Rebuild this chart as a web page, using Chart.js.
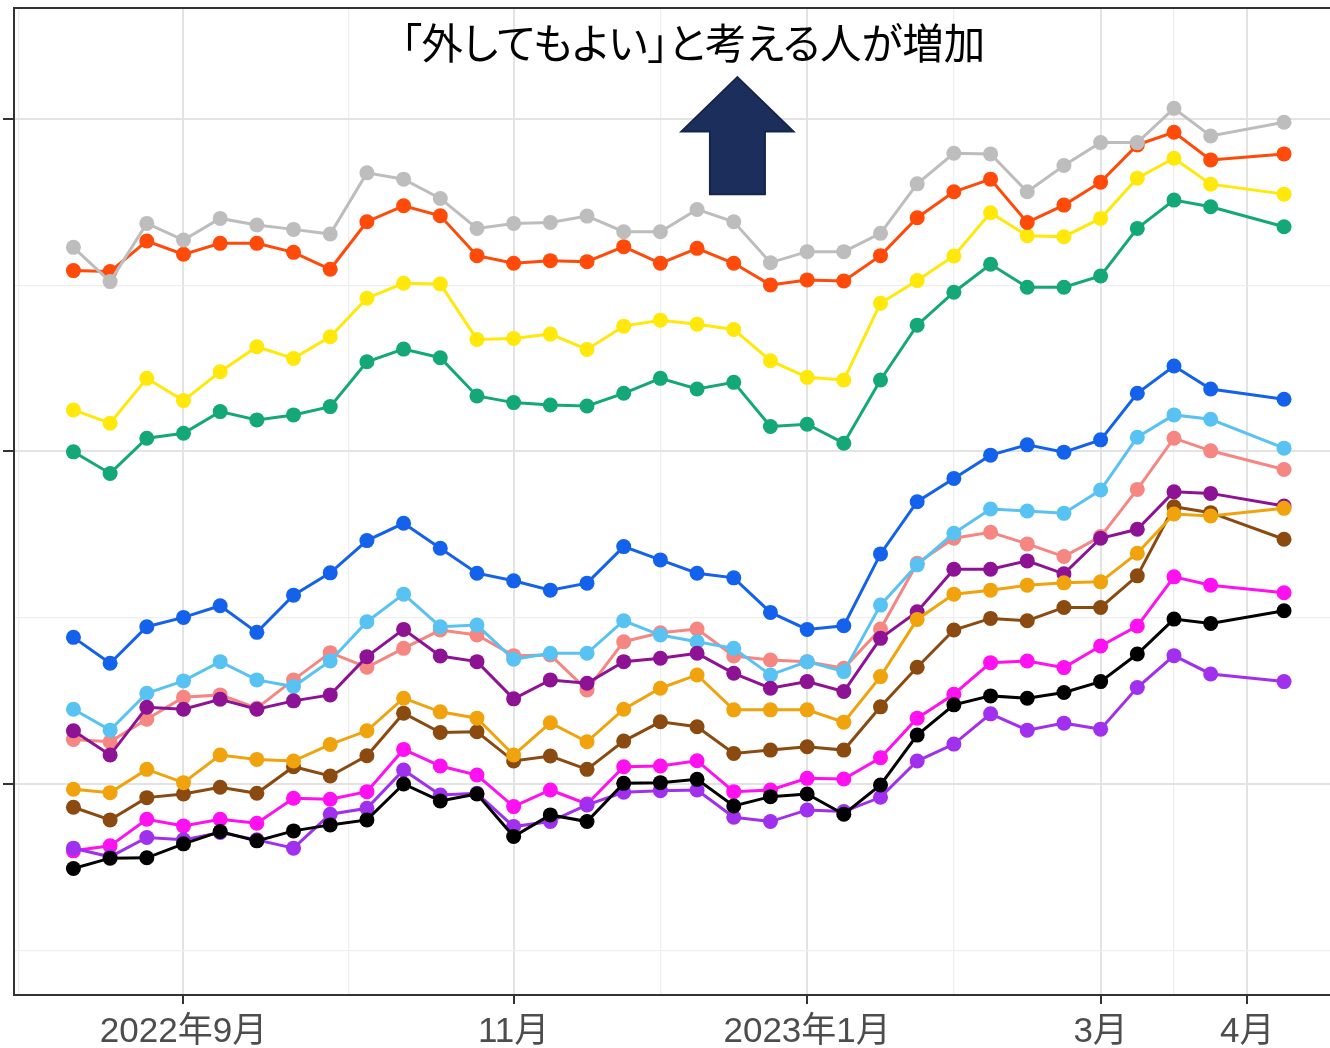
<!DOCTYPE html>
<html><head><meta charset="utf-8">
<script src="https://cdn.jsdelivr.net/npm/chart.js@4.4.1/dist/chart.umd.min.js"></script>
<style>
html,body{margin:0;padding:0;overflow:hidden;background:#fff;width:1330px;height:1048px;}
#wrap{position:relative;width:1330px;height:1048px;overflow:hidden;background:#fff;}
canvas{position:absolute;left:0;top:0;}
#note{position:absolute;left:0;width:1386px;top:19px;text-align:center;font-family:'Noto Sans CJK JP','Noto Sans CJK SC',sans-serif;font-size:41.5px;line-height:44px;color:#000;white-space:nowrap;font-feature-settings:"palt";}
</style></head><body>
<div id="wrap"><canvas id="c" width="1344" height="1048"></canvas><div id="note">「外してもよい」と考える人が増加</div></div>
<script>
// x positions (survey wave index; wave 32 missing)
const waves = [0,1,2,3,4,5,6,7,8,9,10,11,12,13,14,15,16,17,18,19,20,21,22,23,24,25,26,27,28,29,30,31,33];
const majorTicks = [3,12,20,28,32];
const tickLabels = ['2022年9月','11月','2023年1月','3月','4月'];
const minorTicks = [-1.5,7.5,16,24,30];
const yMajor = [10,20,30];
const yMinor = [5,15,25];

const gray      = [26.14,25.11,26.86,26.36,27.01,26.81,26.68,26.54,28.38,28.19,27.61,26.71,26.86,26.89,27.08,26.61,26.61,27.28,26.91,25.68,26.01,26.01,26.56,28.05,28.97,28.95,27.81,28.60,29.29,29.29,30.32,29.49,29.90];
const orangered = [25.44,25.41,26.33,25.93,26.26,26.26,25.99,25.48,26.91,27.39,27.09,25.89,25.66,25.74,25.71,26.16,25.66,26.11,25.66,25.01,25.16,25.13,25.89,27.03,27.81,28.19,26.89,27.41,28.10,29.22,29.60,28.77,28.95];
const yellow    = [21.25,20.85,22.20,21.53,22.40,23.15,22.80,23.45,24.61,25.06,25.04,23.37,23.40,23.53,23.07,23.77,23.95,23.83,23.67,22.73,22.23,22.15,24.46,25.14,25.88,27.18,26.49,26.46,27.01,28.22,28.82,28.04,27.74];
const green     = [19.99,19.34,20.40,20.55,21.20,20.95,21.10,21.35,22.70,23.08,22.82,21.67,21.47,21.40,21.37,21.75,22.20,21.88,22.08,20.75,20.82,20.25,22.15,23.80,24.79,25.63,24.94,24.94,25.28,26.71,27.56,27.36,26.76];
const blue      = [14.41,13.63,14.73,15.01,15.36,14.56,15.68,16.35,17.32,17.84,17.09,16.34,16.11,15.83,16.04,17.14,16.74,16.34,16.20,15.16,14.65,14.76,16.92,18.49,19.19,19.89,20.20,19.98,20.35,21.75,22.57,21.88,21.57];
const lightblue = [12.25,11.62,12.73,13.10,13.68,13.13,12.93,13.70,14.88,15.71,14.73,14.78,13.75,13.93,13.93,14.91,14.48,14.28,14.08,13.28,13.68,13.38,15.38,16.59,17.54,18.27,18.21,18.14,18.84,20.43,21.10,20.97,20.10];
const salmon    = [11.34,11.27,11.95,12.61,12.68,12.28,13.13,13.95,13.51,14.08,14.63,14.48,13.86,13.88,12.83,14.28,14.55,14.66,13.85,13.73,13.68,13.48,14.66,16.64,17.39,17.57,17.22,16.84,17.44,18.86,20.40,20.02,19.46];
const purple    = [11.60,10.87,12.31,12.25,12.55,12.25,12.50,12.68,13.83,14.65,13.85,13.68,12.56,13.13,13.03,13.68,13.78,13.93,13.33,12.88,13.08,12.78,14.38,15.18,16.46,16.46,16.71,16.32,17.39,17.66,18.79,18.74,18.36];
const orange    = [9.84,9.74,10.44,10.04,10.87,10.74,10.69,11.19,11.60,12.58,12.17,11.98,10.87,11.84,11.27,12.25,12.88,13.28,12.23,12.23,12.23,11.86,13.23,14.95,15.71,15.83,15.98,16.05,16.08,16.94,18.12,18.06,18.29];
const brown     = [9.30,8.92,9.59,9.70,9.90,9.72,10.52,10.24,10.85,12.13,11.55,11.57,10.69,10.84,10.44,11.29,11.87,11.72,10.92,11.02,11.12,11.02,12.32,13.51,14.63,14.98,14.91,15.31,15.31,16.26,18.34,18.16,17.36];
const magenta   = [7.99,8.14,8.94,8.74,8.94,8.82,9.57,9.54,9.77,11.04,10.54,10.27,9.32,9.82,9.40,10.52,10.54,10.70,9.77,9.82,10.17,10.15,10.79,11.98,12.70,13.65,13.70,13.50,14.15,14.75,16.23,15.98,15.75];
const black     = [7.46,7.77,7.78,8.20,8.57,8.29,8.59,8.77,8.92,10.00,9.49,9.70,8.42,9.07,8.87,10.02,10.04,10.14,9.34,9.62,9.70,9.09,9.97,11.47,12.38,12.65,12.58,12.75,13.08,13.91,14.96,14.83,15.21];
const violet    = [8.07,7.81,8.39,8.32,8.54,8.32,8.07,9.09,9.27,10.42,9.67,9.72,8.72,8.87,9.37,9.75,9.80,9.82,9.00,8.87,9.22,9.17,9.60,10.69,11.20,12.11,11.62,11.83,11.65,12.90,13.86,13.31,13.08];

// drawing order: first listed is drawn on top
const series = [
  ['black', black, '#000000'],
  ['violet', violet, '#A02FEE'],
  ['magenta', magenta, '#FF10F0'],
  ['orange', orange, '#F0A30C'],
  ['brown', brown, '#8A4A10'],
  ['purple', purple, '#8E1294'],
  ['lightblue', lightblue, '#58C3F3'],
  ['salmon', salmon, '#F58682'],
  ['blue', blue, '#1462EC'],
  ['gray', gray, '#BDBDBD'],
  ['orangered', orangered, '#FF4A0A'],
  ['yellow', yellow, '#FFE80A'],
  ['green', green, '#14A878']
];

const datasets = series.map(([name, vals, col]) => ({
  label: name,
  data: vals.map((v, i) => ({x: waves[i], y: v})),
  borderColor: col,
  backgroundColor: col,
  pointBackgroundColor: col,
  pointBorderColor: col,
  borderWidth: 3,
  pointRadius: 7.5,
  pointBorderWidth: 0,
  tension: 0
}));

const isMajorX = v => majorTicks.includes(v);
const isMajorY = v => yMajor.includes(v);

const frame = {
  id: 'frame',
  afterDraw(chart) {
    const {ctx, chartArea: a, scales} = chart;
    ctx.save();
    // annotation arrow
    const cx = scales.x.getPixelForValue(18.1);
    const tip = scales.y.getPixelForValue(31.26);
    const neck = scales.y.getPixelForValue(29.62);
    const base = scales.y.getPixelForValue(27.74);
    ctx.beginPath();
    ctx.moveTo(cx, tip);
    ctx.lineTo(cx + 56, neck);
    ctx.lineTo(cx + 27.5, neck);
    ctx.lineTo(cx + 27.5, base);
    ctx.lineTo(cx - 27.5, base);
    ctx.lineTo(cx - 27.5, neck);
    ctx.lineTo(cx - 56, neck);
    ctx.closePath();
    ctx.fillStyle = '#1C2F5C';
    ctx.fill();
    ctx.lineWidth = 2;
    ctx.strokeStyle = '#15254B';
    ctx.stroke();
    // panel border
    ctx.strokeStyle = '#333333';
    ctx.lineWidth = 2;
    ctx.strokeRect(a.left, a.top, a.right - a.left, a.bottom - a.top);
    ctx.restore();
  }
};

new Chart(document.getElementById('c'), {
  type: 'line',
  data: {datasets},
  plugins: [frame],
  options: {
    responsive: false,
    animation: false,
    devicePixelRatio: 1,
    layout: {padding: {top: 8, left: 0, right: 0, bottom: 0}},
    plugins: {legend: {display: false}, tooltip: {enabled: false}},
    scales: {
      x: {
        type: 'linear',
        min: -1.62, max: 34.43,
        afterBuildTicks: s => { s.ticks = minorTicks.concat(majorTicks).sort((a, b) => a - b).map(v => ({value: v})); },
        afterFit: s => { s.height = 53; },
        ticks: {
          autoSkip: false, maxRotation: 0, minRotation: 0, padding: 7,
          color: '#4D4D4D',
          font: {family: "'Liberation Sans','Noto Sans CJK JP'", size: 35},
          callback: v => { const i = majorTicks.indexOf(v); return i >= 0 ? tickLabels[i] : ''; }
        },
        grid: {
          color: c => (c.tick && isMajorX(c.tick.value)) ? '#E3E3E3' : '#EEEEEE',
          lineWidth: c => (c.tick && isMajorX(c.tick.value)) ? 2 : 1.3,
          tickLength: 9,
          tickColor: c => (c.tick && isMajorX(c.tick.value)) ? '#333333' : 'rgba(0,0,0,0)',
          tickWidth: 2
        },
        border: {display: false}
      },
      y: {
        type: 'linear',
        min: 3.654, max: 33.338,
        afterBuildTicks: s => { s.ticks = yMinor.concat(yMajor).sort((a, b) => a - b).map(v => ({value: v})); },
        afterFit: s => { s.width = 14; },
        ticks: {display: false},
        grid: {
          color: c => (c.tick && isMajorY(c.tick.value)) ? '#E3E3E3' : '#EEEEEE',
          lineWidth: c => (c.tick && isMajorY(c.tick.value)) ? 2 : 1.3,
          tickLength: 11,
          tickColor: c => (c.tick && isMajorY(c.tick.value)) ? '#333333' : 'rgba(0,0,0,0)',
          tickWidth: 2
        },
        border: {display: false}
      }
    }
  }
});
</script>
</body></html>
